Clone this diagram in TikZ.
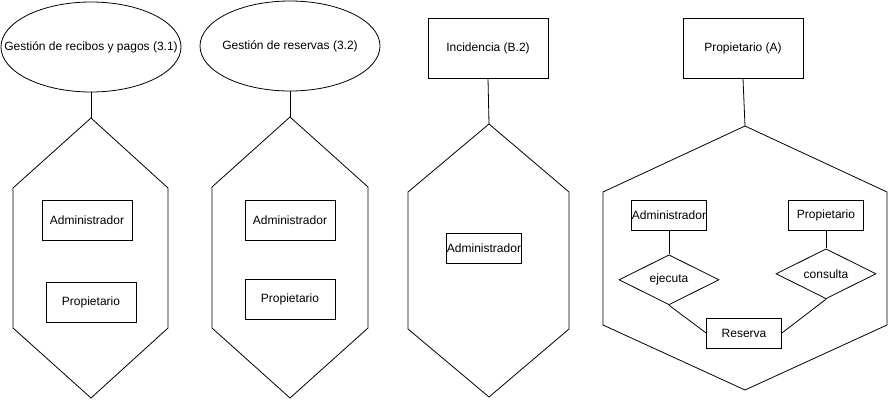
\documentclass[tikz,border=0pt]{standalone}
\usepackage{fontspec}
\setmainfont{Liberation Sans}
\usetikzlibrary{positioning}
\usetikzlibrary{shapes.geometric}

\begin{document}
\begin{tikzpicture}[
                x=1pt, y=1pt,
                line width=0.8pt,
                every node/.style={font=\fontsize{12}{14}\selectfont},
                ovalnode/.style={ellipse, draw, minimum width=180pt, minimum height=90pt, inner sep=0pt},
                bignode/.style={rectangle, draw, minimum width=120pt, minimum height=60pt, inner sep=0pt},
                boxnode/.style={rectangle, draw, minimum width=90pt, minimum height=40pt, inner sep=0pt},
                smallnode/.style={rectangle, draw, minimum width=75pt, minimum height=30pt, inner sep=0pt},
                relnode/.style={diamond, draw, aspect=2, minimum width=100pt, minimum height=50pt, inner sep=0pt},
            ]
            \useasboundingbox (0,0) rectangle (889,-407);

            % Nodes
            \node[ovalnode]     (recibos)      at (91,-47)     {\makebox[0pt]{Gestión de recibos y pagos (3.1)}};
            \node[ovalnode]     (reservas)     at (290,-46)    {\makebox[0pt]{Gestión de reservas (3.2)}};
            \node[bignode]      (incidencia)   at (488,-48)    {Incidencia (B.2)};
            \node[bignode]      (propietario)  at (743,-48)    {Propietario (A)};

            \coordinate         (hex_recibos)      at (91,-118);
            \coordinate         (hex_reservas)     at (290,-117);
            \coordinate         (hex_incidencia)   at (489,-124);
            \coordinate         (hex_propietario)  at (745,-126);

            \node[boxnode]      (admin_recibos)    at (87,-220)     {Administrador};
            \node[boxnode]      (prop_recibos)     at (91,-302)     {Propietario};

            \node[boxnode]      (admin_reservas)   at (290,-220)    {Administrador};
            \node[boxnode]      (prop_reservas)    [below=39pt of admin_reservas]   {Propietario};

            \node[smallnode]    (admin_incidencia) at (484,-248)    {Administrador};

            \node[smallnode]    (admin_prop)       at (669,-215)    {Administrador};
            \node[smallnode]    (prop_prop)        at (826,-215)    {Propietario};
            \node[relnode]      (ejecuta)          [below=24pt of admin_prop]   {ejecuta};
            \node[relnode]      (consulta)         [below=18pt of prop_prop]    {consulta};
            \node[smallnode]    (reserva)          at (744,-333)    {Reserva};

            % Hexagons
            \draw (hex_recibos) -- (168,-188) -- (168,-328) -- (91,-398) -- (13,-328) -- (13,-188) -- cycle;
            \draw (hex_reservas) -- (368,-187) -- (368,-328) -- (290,-398) -- (212,-328) -- (212,-187) -- cycle;
            \draw (hex_incidencia) -- (569,-192) -- (569,-329) -- (489,-397) -- (408,-329) -- (408,-192) -- cycle;
            \draw (hex_propietario) -- (887,-192) -- (887,-325) -- (745,-390) -- (603,-325) -- (603,-192) -- cycle;

            %Lines
            \draw (recibos.south) -- (hex_recibos);
            \draw (reservas.south) -- (hex_reservas);
            \draw (incidencia.south) -- (hex_incidencia);
            \draw (propietario.south) -- (hex_propietario);

            \draw (admin_prop.south) -- (ejecuta.north);
            \draw (prop_prop.south) -- (consulta.north);
            \draw (ejecuta.south) -- (reserva.west);
            \draw (consulta.south) -- (reserva.east);
        \end{tikzpicture}
\end{document}
